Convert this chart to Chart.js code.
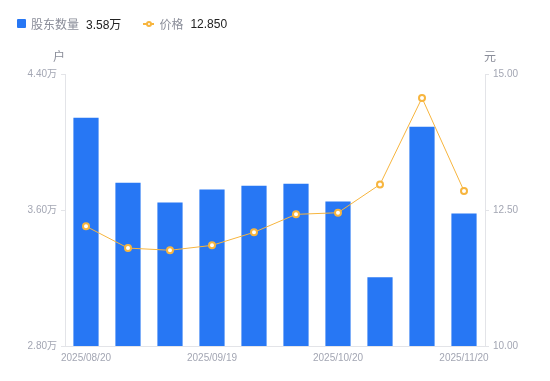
<!DOCTYPE html>
<html><head><meta charset="utf-8">
<script src="https://cdn.jsdelivr.net/npm/chart.js@4/dist/chart.umd.min.js"></script>
<style>
html,body{margin:0;padding:0;background:#fff;}
#wrap{position:relative;width:550px;height:381px;}
#legend{position:absolute;left:17px;top:15px;font-family:Arial,'Liberation Sans','Noto Sans CJK SC',sans-serif;font-size:12px;display:flex;align-items:center;white-space:nowrap;}
.item{display:flex;align-items:center;margin-right:22px;}
.sq{width:9px;height:9px;background:#2777F4;border-radius:1px;margin-right:5px;}
.ln{position:relative;width:11px;height:9px;margin-right:5px;}
.ln:before{content:'';position:absolute;left:0;right:0;top:4px;height:1.5px;background:#F7B53E;}
.ln:after{content:'';position:absolute;left:2.5px;top:1.5px;width:2px;height:2px;border:2px solid #F7B53E;border-radius:50%;background:#fff;}
.nm{color:#8a8d99;margin-right:7px;}
.vl{color:#222;}
</style></head>
<body><div id="wrap"><canvas id="c" width="550" height="381"></canvas>
<div id="legend"><div class="item"><span class="sq"></span><span class="nm">股东数量</span><span class="vl">3.58万</span></div><div class="item"><span class="ln"></span><span class="nm">价格</span><span class="vl">12.850</span></div></div></div>
<script>
const categories = ['2025/08/20','2025/08/29','2025/09/10','2025/09/19','2025/09/30','2025/10/10','2025/10/20','2025/10/31','2025/11/10','2025/11/20'];
const holders = [4.142, 3.761, 3.644, 3.720, 3.743, 3.755, 3.650, 3.204, 4.089, 3.579];
const prices = [12.20, 11.80, 11.76, 11.85, 12.09, 12.42, 12.45, 12.97, 14.56, 12.85];
const shownLabels = [0, 3, 6, 9];
const leftTicks = [2.8, 3.6, 4.4];
const rightTicks = [10, 12.5, 15];

const FONT = "Arial, 'Liberation Sans', 'Noto Sans CJK SC', sans-serif";
const tickColor = '#a3a6b3';
const axisColor = '#e3e4e8';

const unitPlugin = {
  id: 'units',
  afterDraw(chart) {
    const ctx = chart.ctx, a = chart.chartArea;
    ctx.save();
    ctx.font = "12px " + FONT;
    ctx.fillStyle = '#8a8d99';
    ctx.textBaseline = 'middle';
    ctx.textAlign = 'center';
    ctx.fillText('户', a.left - 6, 58);
    ctx.fillText('元', a.right + 5, 58);
    ctx.restore();
  }
};

new Chart(document.getElementById('c'), {
  data: {
    labels: categories,
    datasets: [
      { type: 'line', label: '价格', data: prices, yAxisID: 'y1', borderColor: '#F7B53E', borderWidth: 1,
        pointBackgroundColor: '#fff', pointBorderColor: '#F7B53E', pointBorderWidth: 2, pointRadius: 3, tension: 0, order: 0 },
      { type: 'bar', label: '股东数量', data: holders, yAxisID: 'y', backgroundColor: '#2777F4',
        categoryPercentage: 0.6, barPercentage: 1, order: 1 }
    ]
  },
  options: {
    responsive: false, animation: false,
    layout: { padding: { top: 74, left: 0, right: 0, bottom: 0 } },
    plugins: { legend: { display: false }, tooltip: { enabled: false } },
    scales: {
      x: {
        grid: { display: false, drawTicks: false },
        border: { display: true, color: axisColor },
        ticks: { autoSkip: false, maxRotation: 0, padding: 6, color: tickColor, font: { family: FONT, size: 10 },
          callback: (v, i) => shownLabels.includes(i) ? categories[i] : '' },
        afterFit: s => { s.height = 35; }
      },
      y: {
        position: 'left', min: 2.8, max: 4.4,
        afterBuildTicks: s => { s.ticks = leftTicks.map(v => ({ value: v })); },
        grid: { drawOnChartArea: false, tickLength: 4, color: axisColor },
        border: { display: true, color: axisColor },
        ticks: { padding: 4, color: tickColor, font: { family: FONT, size: 10 }, callback: v => v.toFixed(2) + '万' },
        afterFit: s => { s.width = 65; }
      },
      y1: {
        position: 'right', min: 10, max: 15,
        afterBuildTicks: s => { s.ticks = rightTicks.map(v => ({ value: v })); },
        grid: { drawOnChartArea: false, tickLength: 4, color: axisColor },
        border: { display: true, color: axisColor },
        ticks: { padding: 4, color: tickColor, font: { family: FONT, size: 10 }, callback: v => v.toFixed(2) },
        afterFit: s => { s.width = 65; }
      }
    }
  },
  plugins: [unitPlugin]
});
</script></body></html>
